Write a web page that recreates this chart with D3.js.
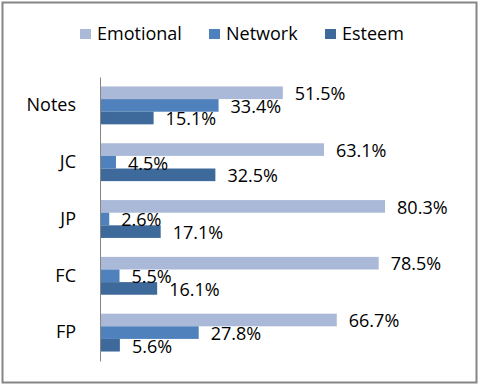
<!DOCTYPE html>
<html>
<head>
<meta charset="utf-8">
<script src="https://cdn.jsdelivr.net/npm/d3@7"></script>
<style>
  body { margin: 0; background: #fff; }
  text { font-family: "Open Sans", Lato, sans-serif; fill: #000; }
</style>
</head>
<body>
<svg></svg>
<script>
const categories = ['Notes', 'JC', 'JP', 'FC', 'FP'];
const seriesNames = ['Emotional', 'Network', 'Esteem'];
const emotional = [51.5, 63.1, 80.3, 78.5, 66.7];
const network = [33.4, 4.5, 2.6, 5.5, 27.8];
const esteem = [15.1, 32.5, 17.1, 16.1, 5.6];
const colors = ['#aab9d7', '#4f81bd', '#3e6a9b'];

const width = 481;
const height = 386;
const fontSize = '18px';

const svg = d3.select('svg')
  .attr('width', width)
  .attr('height', height);

svg.append('rect')
  .attr('x', 2.5)
  .attr('y', 2.5)
  .attr('width', 474)
  .attr('height', 380)
  .style('fill', 'white')
  .style('stroke', '#858585')
  .style('stroke-width', 2);

const x = d3.scaleLinear()
  .domain([0, 100])
  .range([100, 455]);

const y = d3.scaleBand()
  .domain(categories)
  .range([77, 361])
  .paddingInner(1 / 3)
  .paddingOuter(1 / 6);

const ySeries = d3.scaleBand()
  .domain(seriesNames)
  .range([0, y.bandwidth()]);

const color = d3.scaleOrdinal()
  .domain(seriesNames)
  .range(colors);

const values = [emotional, network, esteem];
const rows = [];
categories.forEach((cat, i) => {
  seriesNames.forEach((name, j) => {
    rows.push({ cat, name, value: values[j][i] });
  });
});

const bars = svg.append('g');

bars.selectAll('rect')
  .data(rows)
  .join('rect')
  .attr('x', x(0))
  .attr('y', d => y(d.cat) + ySeries(d.name))
  .attr('width', d => x(d.value) - x(0))
  .attr('height', ySeries.bandwidth())
  .style('fill', d => color(d.name));

bars.selectAll('text')
  .data(rows)
  .join('text')
  .attr('x', d => x(d.value) + 12)
  .attr('y', d => y(d.cat) + ySeries(d.name) + ySeries.bandwidth() / 2 + 1)
  .attr('dy', '0.35em')
  .style('font-size', fontSize)
  .text(d => d.value.toFixed(1) + '%');

// category axis
const yAxis = svg.append('g')
  .attr('transform', `translate(${x(0)},0)`)
  .call(d3.axisLeft(y).tickSize(0).tickPadding(24));

yAxis.select('.domain')
  .attr('stroke', '#868686');

yAxis.selectAll('text')
  .style('font-size', fontSize)
  .style('font-family', '"Open Sans", Lato, sans-serif');

// legend
const legendX = [80, 209, 325];
const legend = svg.append('g')
  .selectAll('g')
  .data(seriesNames)
  .join('g')
  .attr('transform', (d, i) => `translate(${legendX[i]},29)`);

legend.append('rect')
  .attr('width', 11)
  .attr('height', 10)
  .style('fill', d => color(d));

legend.append('text')
  .attr('x', 17)
  .attr('y', 5)
  .attr('dy', '0.35em')
  .style('font-size', fontSize)
  .text(d => d);
</script>
</body>
</html>
